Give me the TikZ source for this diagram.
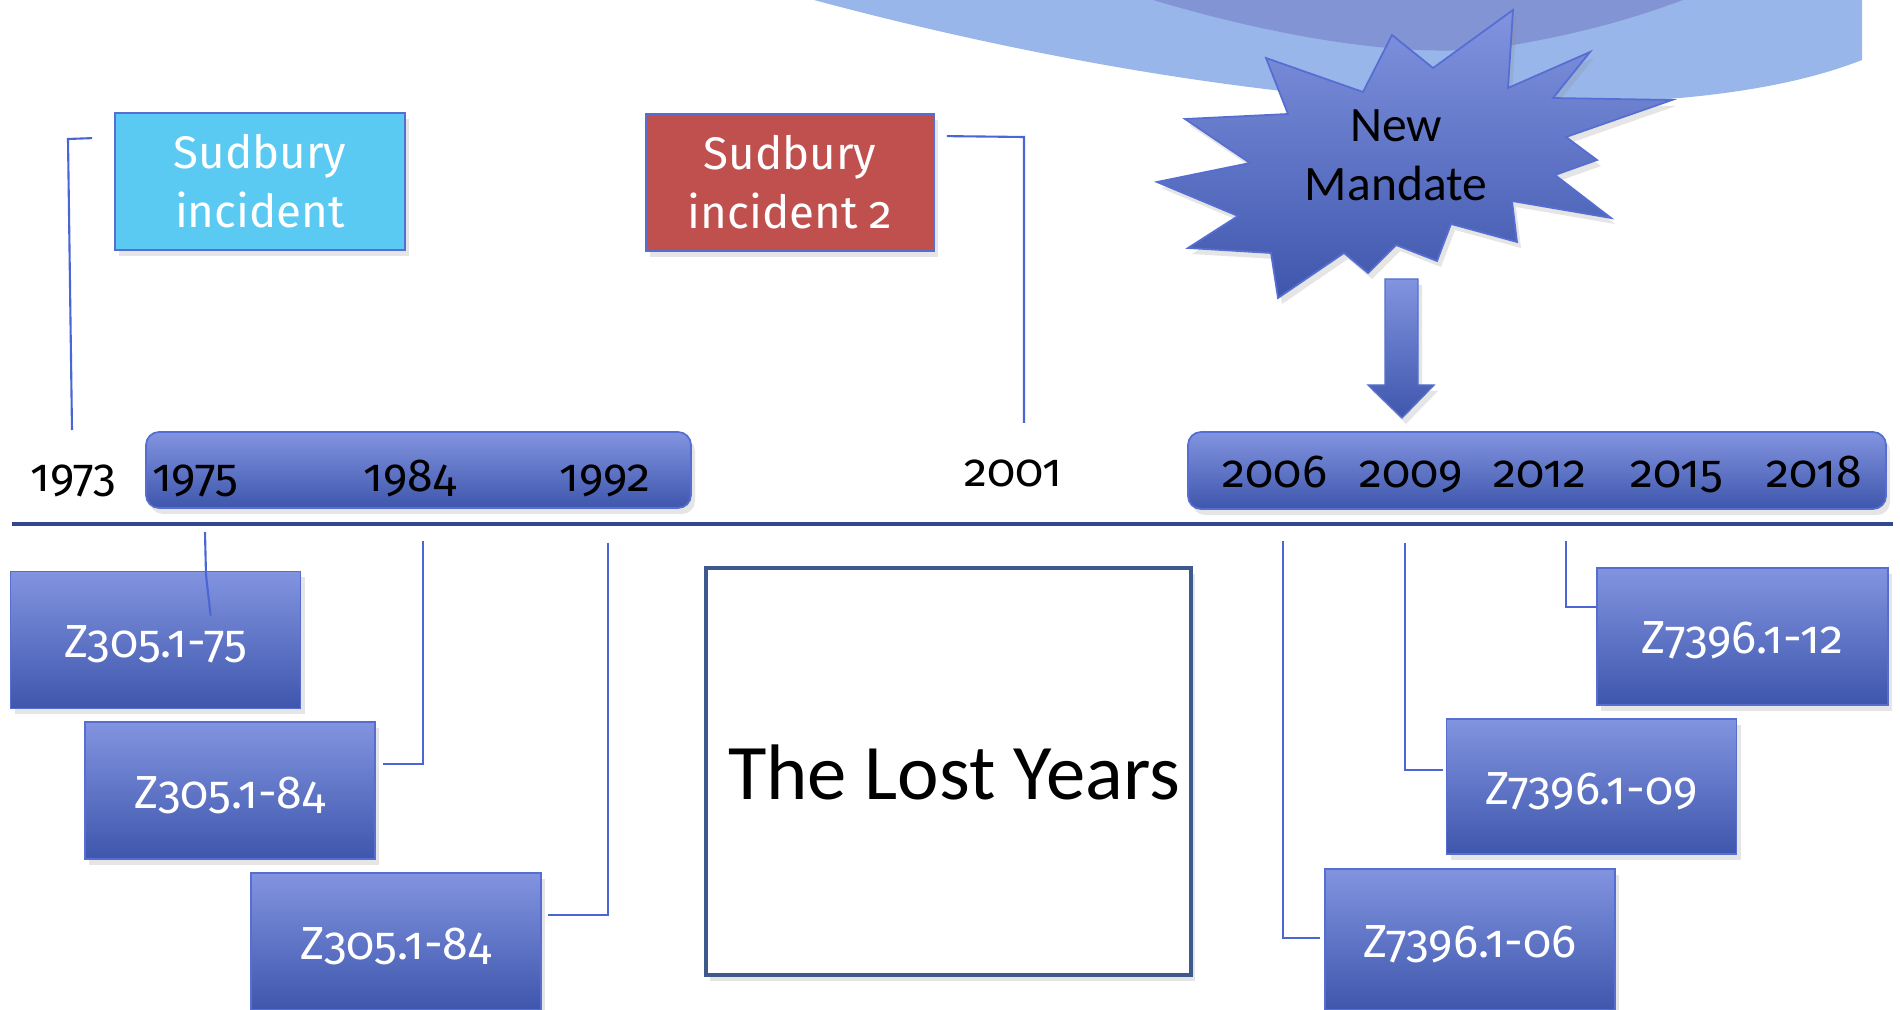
\documentclass[tikz,border=0pt]{standalone}
\usepackage{fontspec}
\setmainfont{Fira Sans}[Numbers=OldStyle]
\newfontfamily\calfont{Carlito}
\usetikzlibrary{calc,shadows}
\definecolor{boxtop}{RGB}{130,148,224}
\definecolor{boxbot}{RGB}{62,86,172}
\definecolor{boxedge}{RGB}{86,110,210}
\definecolor{connblue}{RGB}{74,102,212}
\definecolor{cyanbox}{RGB}{91,202,242}
\definecolor{redbox}{RGB}{192,80,77}
\definecolor{navy}{RGB}{47,72,145}
\definecolor{lostedge}{RGB}{60,90,140}
\definecolor{swlight}{RGB}{152,182,234}
\definecolor{swdark}{RGB}{130,148,212}
\begin{document}
\begin{tikzpicture}[x=0.1mm,y=-0.1mm,
  shadowed/.style={drop shadow={shadow xshift=0.4mm,shadow yshift=-0.6mm,opacity=0.22,fill=black!45}},
  bluebox/.style={rectangle,inner sep=0pt,top color=boxtop,bottom color=boxbot,draw=boxedge,line width=0.5pt,shadowed},
  zbox/.style={bluebox,minimum width=29mm,minimum height=13.7mm,text=white,font=\fontsize{13.2}{15}\selectfont,text height=3.5mm,text depth=0pt},
  eventbox/.style={rectangle,inner sep=0pt,minimum width=29mm,minimum height=13.7mm,draw=boxedge,line width=0.5pt,text=white,font=\fontsize{13}{16.8}\selectfont,align=center,shadowed},
  barbox/.style={bluebox,rounded corners=1.3mm},
  year/.style={anchor=base,inner sep=0pt,font=\fontsize{13.2}{15}\selectfont,text=black},
  conn/.style={draw=connblue,line width=0.6pt}]
\useasboundingbox (0,0) rectangle (1900,1010);
\fill[white] (0,0) rectangle (1900,1010);

% background swoosh
\fill[swlight] (814,0) -- (1862,0) -- (1862,60) .. controls (1760,100) and (1620,105) .. (1480,105) .. controls (1250,100) and (1000,50) .. (814,0) -- cycle;
\fill[swdark] (1153,0) .. controls (1280,38) and (1420,62) .. (1513,45) .. controls (1600,30) and (1650,12) .. (1683,0) -- cycle;

% explosion
\path[top color=boxtop,bottom color=boxbot,draw=boxedge,line width=0.5pt,shadowed]
 (1266,58) -- (1363,92) -- (1392,35) -- (1433,68) -- (1513,10) -- (1508,88) -- (1590,52) -- (1553,98)
 -- (1672,100) -- (1566,137) -- (1597,160) -- (1555,175) -- (1611,218) -- (1512,201) -- (1517,242)
 -- (1451,224) -- (1437,261) -- (1396,245) -- (1368,273) -- (1344,253) -- (1278,298) -- (1271,253)
 -- (1188,248) -- (1238,216) -- (1157,182) -- (1250,163) -- (1185,119) -- (1288,114) -- cycle;
\node[font=\calfont\fontsize{14.1}{16.8}\selectfont,align=center,inner sep=0pt] (mandate) at (1396,155) {New\\Mandate};

% block arrow
\path[top color=boxtop,bottom color=boxbot,draw=boxedge,line width=0.4pt,shadowed]
 (1385,279) -- (1418,279) -- (1418,385) -- (1434,385) -- (1402,418) -- (1368,385) -- (1385,385) -- cycle;

% event boxes
\node[eventbox,fill=cyanbox] (sud1) at (260,181.5) {Sudbury\\incident};
\node[eventbox,fill=redbox,minimum width=28.8mm] (sud2) at (790,182.5) {Sudbury\\incident 2};

% timeline bars
\node[barbox,minimum width=54.5mm,minimum height=7.6mm] (bar1) at (418.5,470) {};
\node[barbox,minimum width=69.8mm,minimum height=7.7mm] (bar2) at (1537,470.5) {};

% years
\node[year] (y1973) at (73.5,492) {1973};
\node[year] (y1975) at (195,492) {1975};
\node[year] (y1984) at (410,492) {1984};
\node[year] (y1992) at (605,492) {1992};
\node[year] (y2001) at (1013,487) {2001};
\node[year] (y2006) at (1275,488) {2006};
\node[year] (y2009) at (1411,488) {2009};
\node[year] (y2012) at (1540,488) {2012};
\node[year] (y2015) at (1677,488) {2015};
\node[year] (y2018) at (1814,488) {2018};

% divider
\draw[navy,line width=1.1pt] (12,524) -- (1893,524);

% standards boxes
\node[zbox] (z75) at (155.5,640) {Z305.1-75};
\node[zbox] (z84a) at (230,790.5) {Z305.1-84};
\node[zbox] (z84b) at (396,941.5) {Z305.1-84};
\node[zbox,minimum width=29.1mm] (z12) at (1742.5,636.5) {Z7396.1-12};
\node[zbox,minimum height=13.5mm] (z09) at (1591.5,786.5) {Z7396.1-09};
\node[zbox,minimum height=14.1mm] (z06) at (1470,939.5) {Z7396.1-06};

% lost years
\node[draw=lostedge,line width=0.9pt,fill=white,minimum width=48.5mm,minimum height=40.7mm,inner sep=0pt,shadowed] (lost) at (948.5,771.5) {};
\node[font=\calfont\fontsize{22.4}{26}\selectfont,inner sep=0pt] (lostlabel) at (954,772) {The Lost Years};

% connectors
\coordinate (t73) at (72,430);
\draw[conn] ($(sud1.north west)+(-22,26)$) -- (68,139) -- (t73);
\coordinate (t01) at (1024,423);
\draw[conn] ($(sud2.north east)+(12,23)$) -- (1024,137) -- (t01);
\coordinate (b75) at (205,532);
\draw[conn] (b75) -- (206,575) -- ($(z75.north west)+(201,45)$);
\coordinate (b84) at (423,541);
\draw[conn] (b84) |- ($(z84a.north east)+(7,43)$);
\coordinate (b92) at (608,543);
\draw[conn] (b92) |- ($(z84b.north east)+(6,43)$);
\coordinate (b06) at (1283,541);
\draw[conn] (b06) |- ($(z06.north west)+(-4,70)$);
\coordinate (b09) at (1405,543);
\draw[conn] (b09) |- ($(z09.north west)+(-3,52)$);
\coordinate (b12) at (1566,541);
\draw[conn] (b12) |- ($(z12.north west)+(0,40)$);
\end{tikzpicture}
\end{document}
